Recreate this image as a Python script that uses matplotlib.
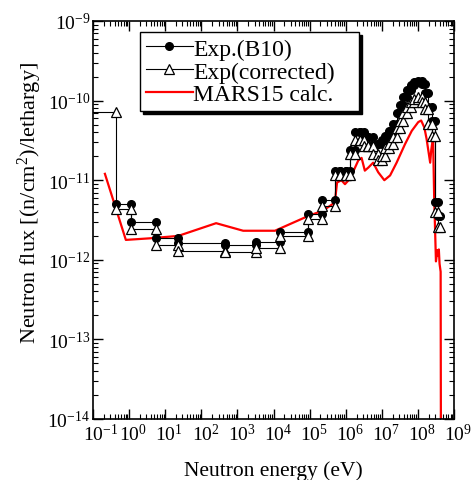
import numpy as np
import matplotlib
matplotlib.use("Agg")
import matplotlib.pyplot as plt
from matplotlib.ticker import LogLocator, NullFormatter, FixedLocator
from matplotlib.transforms import ScaledTranslation

plt.rcParams['font.family'] = ['Liberation Serif', 'DejaVu Serif']
plt.rcParams['mathtext.fontset'] = 'custom'
plt.rcParams['mathtext.rm'] = 'Liberation Serif'
plt.rcParams['mathtext.it'] = 'Liberation Serif:italic'
plt.rcParams['mathtext.bf'] = 'Liberation Serif:bold'
plt.rcParams['axes.unicode_minus'] = False

# ---- data (log10 of energy in eV, log10 of flux) ----
b10_edges = [-0.36, 0.05, 0.74, 1.36, 2.66, 3.52, 4.18, 4.96, 5.35, 5.70,
             5.85, 6.00, 6.12, 6.26, 6.40, 6.52, 6.63, 6.76, 6.90, 7.00,
             7.10, 7.20, 7.30, 7.41, 7.50, 7.60, 7.70, 7.80, 7.90, 8.00,
             8.10, 8.20, 8.29, 8.38, 8.47, 8.55, 8.61]
b10_vals = [-11.30, -11.52, -11.72, -11.79, -11.82, -11.78, -11.65, -11.42, -11.245,
            -10.88, -10.88, -10.88, -10.62, -10.40, -10.40, -10.46, -10.46, -10.55, -10.55,
            -10.50, -10.45, -10.38, -10.29, -10.15, -10.05, -9.95, -9.87, -9.80, -9.77,
            -9.75, -9.79, -9.90, -10.08, -10.25, -11.28, -11.45]

cor_edges = [-1.5, -0.36, 0.05, 0.74, 1.36, 2.66, 3.52, 4.18, 4.96, 5.35, 5.70,
             5.85, 6.00, 6.12, 6.26, 6.40, 6.52, 6.63, 6.76, 6.90, 7.00,
             7.10, 7.20, 7.30, 7.41, 7.50, 7.60, 7.70, 7.80, 7.90, 8.00,
             8.10, 8.20, 8.29, 8.38, 8.47, 8.55, 8.61]
cor_vals = [-10.14, -11.36, -11.61, -11.82, -11.89, -11.90, -11.85, -11.70, -11.49, -11.33,
            -10.94, -10.94, -10.94, -10.67, -10.50, -10.50, -10.57, -10.57, -10.67, -10.75,
            -10.70, -10.60, -10.55, -10.46, -10.35, -10.25, -10.15, -10.08, -10.02, -9.98,
            -9.96, -10.02, -10.10, -10.30, -10.44, -11.40, -11.59]

mars_logE = [-0.67, -0.09, 0.58, 1.36, 2.41, 3.16, 4.04, 4.96, 5.38, 5.70, 5.76, 5.88,
             5.98, 6.08, 6.20, 6.35, 6.44, 6.53, 6.63, 6.76, 6.90, 7.07, 7.23, 7.41,
             7.64, 7.83, 8.01, 8.09, 8.18, 8.24, 8.29, 8.34, 8.37, 8.42, 8.45, 8.50,
             8.54, 8.56, 8.58, 8.60, 8.63, 8.64]
mars_logF = [-10.92, -11.75, -11.73, -11.70, -11.54, -11.635, -11.635, -11.45, -11.38,
             -11.28, -11.03, -11.00, -11.05, -11.00, -10.90, -10.75, -10.72, -10.88,
             -10.84, -10.78, -10.90, -11.00, -10.94, -10.78, -10.55, -10.38, -10.27,
             -10.25, -10.34, -10.48, -10.63, -10.78, -10.62, -10.46, -11.2, -12.02,
             -11.88, -11.95, -11.87, -12.05, -12.15, -15.0]

labels = ['Exp.(B10)', 'Exp(corrected)', 'MARS15 calc.']
x_tick_exps = list(range(-1, 10))
y_tick_exps = list(range(-14, -8))


def steps(edges, vals):
    xs, ys = [], []
    for i, v in enumerate(vals):
        xs += [edges[i], edges[i + 1]]
        ys += [v, v]
    return 10.0 ** np.array(xs), 10.0 ** np.array(ys)


fig = plt.figure(figsize=(4.74, 4.81), dpi=100)
ax = fig.add_axes([93 / 474, 1 - 420 / 481, (454 - 93) / 474, (420 - 22) / 481])

l3, = ax.plot(10.0 ** np.array(mars_logE), 10.0 ** np.array(mars_logF), color='#ff0000',
              lw=1.6, zorder=2, label=labels[2])
x1, y1 = steps(b10_edges, b10_vals)
l1, = ax.plot(x1, y1, color='black', lw=0.8, marker='o', ms=5.5, mfc='black', mec='black',
              zorder=3, label=labels[0])
x2, y2 = steps(cor_edges, cor_vals)
l2, = ax.plot(x2, y2, color='black', lw=0.8, marker='^', ms=7, mfc='white', mec='black',
              mew=0.9, zorder=4, label=labels[1])

ax.set_xscale('log')
ax.set_yscale('log')
ax.set_xlim(1e-1, 1e9)
ax.set_ylim(1e-14, 1e-9)

ax.xaxis.set_major_locator(FixedLocator([10.0 ** e for e in x_tick_exps]))
ax.set_xticklabels([r'$\mathregular{10^{%d}}$' % e for e in x_tick_exps])
ax.xaxis.set_minor_locator(LogLocator(base=10, subs=np.arange(2, 10), numticks=20))
ax.xaxis.set_minor_formatter(NullFormatter())
ax.yaxis.set_major_locator(FixedLocator([10.0 ** e for e in y_tick_exps]))
ax.set_yticklabels([r'$\mathregular{10^{%d}}$' % e for e in y_tick_exps])
ax.yaxis.set_minor_locator(LogLocator(base=10, subs=np.arange(2, 10), numticks=20))
ax.yaxis.set_minor_formatter(NullFormatter())

ax.tick_params(which='both', direction='in', top=True, right=True, labelsize=14)
ax.tick_params(which='major', length=7, width=1)
ax.tick_params(which='minor', length=3.5, width=0.8)
ax.tick_params(axis='x', pad=2.5)
ax.tick_params(axis='y', pad=2)
for s in ax.spines.values():
    s.set_linewidth(1.2)

# centre the "10" of each x tick label on its tick, superscript hanging right
shift = ScaledTranslation(-7 / 72, 0, fig.dpi_scale_trans)
for tick in ax.xaxis.get_major_ticks():
    tick.label1.set_horizontalalignment('left')
    tick.label1.set_transform(tick.label1.get_transform() + shift)

ax.set_xlabel('Neutron energy (eV)', fontsize=15.5)
ax.xaxis.set_label_coords(0.5, -0.103)
ax.set_ylabel('Neutron flux [(n/cm$^2$)/lethargy]', fontsize=16)
ax.yaxis.set_label_coords(-0.137, 0.545)

leg = ax.legend(handles=[l1, l2, l3], loc='upper left', bbox_to_anchor=(0.130, 0.0, 0.607, 0.972),
                mode='expand', fontsize=17, frameon=True, fancybox=False,
                shadow={'color': 'black', 'alpha': 1},
                edgecolor='black', framealpha=1, numpoints=1, handlelength=2.0,
                handletextpad=0.0, borderpad=0.25, labelspacing=0.06, borderaxespad=0)
leg.get_frame().set_linewidth(1.0)

fig.savefig('out.png', dpi=100)
